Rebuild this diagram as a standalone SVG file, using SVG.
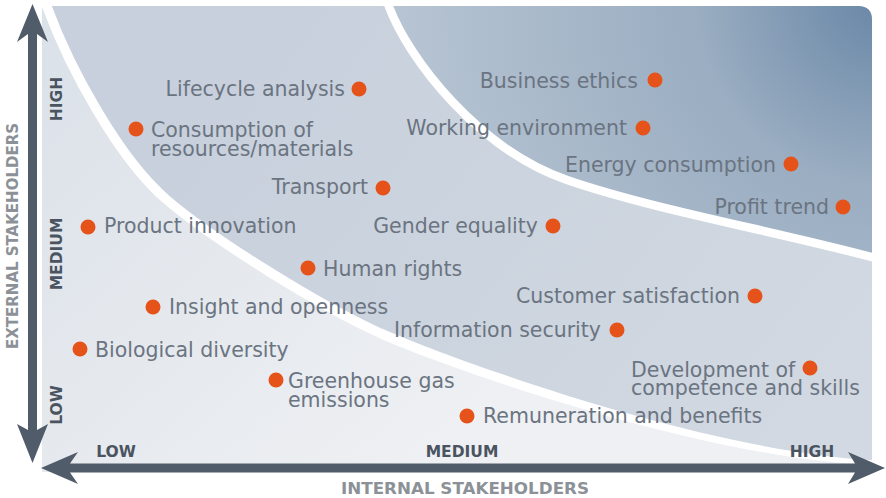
<svg xmlns="http://www.w3.org/2000/svg" width="886" height="498" viewBox="0 0 886 498">
  <style>
    .item { font-family: "DejaVu Sans", "Liberation Sans", sans-serif; font-size: 20.5px; fill: #6b7481; }
    .dot { fill: #e5531a; }
    .level { font-family: "DejaVu Sans", "Liberation Sans", sans-serif; font-size: 15.5px; font-weight: bold; fill: #4a5461; }
    .axis-title { font-family: "DejaVu Sans", "Liberation Sans", sans-serif; font-size: 15px; font-weight: bold; fill: #8c9198; }
    .arrow { fill: #505c69; }
    .divider { fill: none; stroke: #ffffff; stroke-linecap: round; }
  </style>
  <defs>
    <clipPath id="panelClip">
      <path d="M42,6 H858 Q872,6 872,20 V472 H42 Z"/>
    </clipPath>
    <linearGradient id="zoneLow" gradientUnits="userSpaceOnUse" x1="60" y1="60" x2="420" y2="460">
      <stop offset="0" stop-color="#dce2e9"/>
      <stop offset="1" stop-color="#eef0f3"/>
    </linearGradient>
    <linearGradient id="zoneMid" gradientUnits="userSpaceOnUse" x1="250" y1="20" x2="820" y2="460">
      <stop offset="0" stop-color="#c7d0dc"/>
      <stop offset="1" stop-color="#d2d9e2"/>
    </linearGradient>
    <radialGradient id="zoneHigh" gradientUnits="userSpaceOnUse" cx="880" cy="0" r="520">
      <stop offset="0" stop-color="#6987a7"/>
      <stop offset="0.35" stop-color="#9aadc1"/>
      <stop offset="1" stop-color="#bac7d5"/>
    </radialGradient>
  </defs>

  <!-- Background panel split into three zones by curved white dividers -->
  <g id="panel" clip-path="url(#panelClip)">
    <rect x="42" y="6" width="830" height="466" fill="url(#zoneLow)"/>
    <path d="M46,4 C70,70 120,160 167,200 S320,306 380,333 S700,455 872,463 L880,463 L880,0 Z" fill="url(#zoneMid)"/>
    <path d="M388,4 C408,60 480,150 567,180 S780,232 875,258 L880,258 L880,0 Z" fill="url(#zoneHigh)"/>
    <!-- lower divider: full-width stroke on the steep part, tapering band on the flat tail -->
    <path class="divider" stroke-width="9.5" d="M46,4 C70,70 120,160 167,200 S320,306 380,333"/>
    <path fill="#ffffff" d="M382,328.5 C442,355.5 700,451 875,460.5 L875,465 C700,459 438,364.5 378,337.5 Z"/>
    <path class="divider" stroke-width="8.5" d="M388,4 C408,60 480,150 567,180 S780,232 875,258"/>
  </g>

  <!-- Axes -->
  <g id="axes">
    <path class="arrow" d="M32.5,4 L48,42 L37,34 V430 L48,424 L32.5,463 L17,424 L28,430 V34 L17,42 Z"/>
    <path class="arrow" d="M41,468 L78,452 L70,463.5 H855 L848,452 L885,468 L848,484 L855,472.5 H70 L78,484 Z"/>
    <text class="axis-title" transform="translate(18,236) rotate(-90)" text-anchor="middle" textLength="226" lengthAdjust="spacingAndGlyphs">EXTERNAL STAKEHOLDERS</text>
    <text class="axis-title" x="465" y="494" text-anchor="middle" textLength="248" lengthAdjust="spacingAndGlyphs">INTERNAL STAKEHOLDERS</text>
    <text class="level" transform="translate(62,99) rotate(-90)" text-anchor="middle">HIGH</text>
    <text class="level" transform="translate(62,254) rotate(-90)" text-anchor="middle">MEDIUM</text>
    <text class="level" transform="translate(62,405) rotate(-90)" text-anchor="middle">LOW</text>
    <text class="level" x="116" y="457" text-anchor="middle">LOW</text>
    <text class="level" x="462" y="457" text-anchor="middle">MEDIUM</text>
    <text class="level" x="812" y="457" text-anchor="middle">HIGH</text>
  </g>

  <!-- Plotted topics -->
  <g id="lifecycle-analysis"><circle class="dot" cx="359" cy="89" r="7.5"/><text class="item" x="345" y="96" text-anchor="end">Lifecycle analysis</text></g>
  <g id="consumption-of-resources"><circle class="dot" cx="136" cy="129" r="7.5"/><text class="item" x="151" y="137">Consumption of</text><text class="item" x="151" y="156">resources/materials</text></g>
  <g id="transport"><circle class="dot" cx="383" cy="188" r="7.5"/><text class="item" x="368" y="194" text-anchor="end">Transport</text></g>
  <g id="product-innovation"><circle class="dot" cx="88" cy="227" r="7.5"/><text class="item" x="104" y="233">Product innovation</text></g>
  <g id="human-rights"><circle class="dot" cx="308" cy="268" r="7.5"/><text class="item" x="323" y="276">Human rights</text></g>
  <g id="insight-and-openness"><circle class="dot" cx="153" cy="307" r="7.5"/><text class="item" x="169" y="314">Insight and openness</text></g>
  <g id="biological-diversity"><circle class="dot" cx="80" cy="349" r="7.5"/><text class="item" x="95" y="357">Biological diversity</text></g>
  <g id="greenhouse-gas-emissions"><circle class="dot" cx="276" cy="380" r="7.5"/><text class="item" x="288" y="388">Greenhouse gas</text><text class="item" x="288" y="407">emissions</text></g>
  <g id="remuneration-and-benefits"><circle class="dot" cx="467" cy="416" r="7.5"/><text class="item" x="483" y="423">Remuneration and benefits</text></g>
  <g id="business-ethics"><circle class="dot" cx="655" cy="80" r="7.5"/><text class="item" x="638" y="88" text-anchor="end">Business ethics</text></g>
  <g id="working-environment"><circle class="dot" cx="643" cy="128" r="7.5"/><text class="item" x="627" y="135" text-anchor="end">Working environment</text></g>
  <g id="energy-consumption"><circle class="dot" cx="791" cy="164" r="7.5"/><text class="item" x="776" y="172" text-anchor="end">Energy consumption</text></g>
  <g id="profit-trend"><circle class="dot" cx="843" cy="207" r="7.5"/><text class="item" x="829" y="214" text-anchor="end">Profit trend</text></g>
  <g id="gender-equality"><circle class="dot" cx="553" cy="226" r="7.5"/><text class="item" x="538" y="233" text-anchor="end">Gender equality</text></g>
  <g id="customer-satisfaction"><circle class="dot" cx="755" cy="296" r="7.5"/><text class="item" x="740" y="303" text-anchor="end">Customer satisfaction</text></g>
  <g id="information-security"><circle class="dot" cx="617" cy="330" r="7.5"/><text class="item" x="601" y="337" text-anchor="end">Information security</text></g>
  <g id="development-of-competence"><circle class="dot" cx="810" cy="368" r="7.5"/><text class="item" x="631" y="377">Development of</text><text class="item" x="631" y="395">competence and skills</text></g>
</svg>
